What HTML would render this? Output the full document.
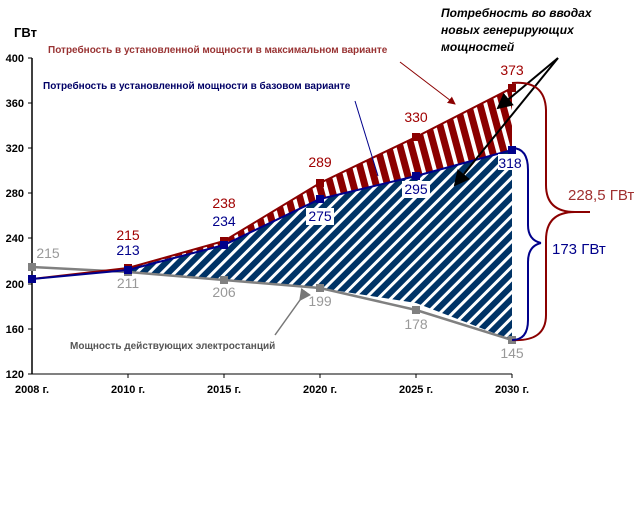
<!DOCTYPE html>
<html><head><meta charset="utf-8"><style>
body{margin:0;background:#fff;}
svg text{font-family:"Liberation Sans",sans-serif;}
</style></head><body>
<svg width="635" height="527" viewBox="0 0 635 527" xmlns="http://www.w3.org/2000/svg">
<defs>
<pattern id="pr" width="11" height="11" patternUnits="userSpaceOnUse" patternTransform="rotate(-15)">
<rect width="11" height="11" fill="#8b0000"/><rect width="4" height="11" fill="#fff"/></pattern>
<pattern id="pb" width="9" height="9" patternUnits="userSpaceOnUse" patternTransform="rotate(45)">
<rect width="9" height="9" fill="#003366"/><rect width="3" height="9" fill="#fff"/></pattern>
<marker id="ah" markerWidth="8" markerHeight="8" refX="7" refY="4" orient="auto"><path d="M0,0 L8,4 L0,8z" fill="#000"/></marker>
<marker id="ar" markerWidth="8" markerHeight="8" refX="7" refY="4" orient="auto"><path d="M0,0 L8,4 L0,8z" fill="#8b0000"/></marker>
<marker id="ag" markerWidth="8" markerHeight="8" refX="7" refY="4" orient="auto"><path d="M0,0 L8,4 L0,8z" fill="#777"/></marker>
</defs>
<polygon fill="url(#pr)" points="128,268 224,241 320,183 416,137 512,88 512,150 416,176 320,199 224,245 128,268"/>
<polygon fill="url(#pb)" points="128,268 224,245 320,199 416,176 512,150 512,340 416,303 320,288 224,280 128,273"/>
<line x1="32" y1="58" x2="32" y2="374" stroke="#000" stroke-width="1.5"/>
<line x1="32" y1="374" x2="512" y2="374" stroke="#000" stroke-width="1"/>
<g stroke="#000">
<line x1="28" y1="58" x2="32" y2="58"/><line x1="28" y1="103" x2="32" y2="103"/><line x1="28" y1="148" x2="32" y2="148"/><line x1="28" y1="193" x2="32" y2="193"/><line x1="28" y1="238" x2="32" y2="238"/><line x1="28" y1="284" x2="32" y2="284"/><line x1="28" y1="329" x2="32" y2="329"/><line x1="28" y1="374" x2="32" y2="374"/>
<line x1="128" y1="374" x2="128" y2="378"/><line x1="224" y1="374" x2="224" y2="378"/><line x1="320" y1="374" x2="320" y2="378"/><line x1="416" y1="374" x2="416" y2="378"/><line x1="512" y1="374" x2="512" y2="378"/>
</g>
<g font-size="11" font-weight="bold" text-anchor="end">
<text x="24" y="62">400</text><text x="24" y="107">360</text><text x="24" y="152">320</text><text x="24" y="197">280</text><text x="24" y="242">240</text><text x="24" y="288">200</text><text x="24" y="333">160</text><text x="24" y="378">120</text>
</g>
<g font-size="11" font-weight="bold" text-anchor="middle">
<text x="32" y="393">2008 г.</text><text x="128" y="393">2010 г.</text><text x="224" y="393">2015 г.</text><text x="320" y="393">2020 г.</text><text x="416" y="393">2025 г.</text><text x="512" y="393">2030 г.</text>
</g>
<text x="14" y="37" font-size="13" font-weight="bold">ГВт</text>
<polyline fill="none" stroke="#808080" stroke-width="2.5" points="32,267 128,272 224,280 320,288 416,310 512,340"/>
<polyline fill="none" stroke="#8b0000" stroke-width="2" points="32,279 128,268 224,241 320,183 416,137 512,88"/>
<polyline fill="none" stroke="#00008b" stroke-width="2" points="32,279 128,270 224,245 320,199 416,176 512,150"/>
<g fill="#808080"><rect x="28" y="263" width="8" height="8"/><rect x="124" y="268" width="8" height="8"/><rect x="220" y="276" width="8" height="8"/><rect x="316" y="284" width="8" height="8"/><rect x="412" y="306" width="8" height="8"/><rect x="508" y="336" width="8" height="8"/></g>
<g fill="#8b0000"><rect x="124" y="264" width="8" height="8"/><rect x="220" y="237" width="8" height="8"/><rect x="316" y="179" width="8" height="8"/><rect x="412" y="133" width="8" height="8"/><rect x="508" y="84" width="8" height="8"/></g>
<g fill="#00008b"><rect x="28" y="275" width="8" height="8"/><rect x="124" y="266" width="8" height="8"/><rect x="220" y="241" width="8" height="8"/><rect x="316" y="195" width="8" height="8"/><rect x="412" y="172" width="8" height="8"/><rect x="508" y="146" width="8" height="8"/></g>
<g font-size="14" text-anchor="middle">
<g fill="#999"><text x="48" y="258">215</text><text x="128" y="288">211</text><text x="224" y="297">206</text><text x="320" y="306">199</text><text x="416" y="329">178</text><text x="512" y="358">145</text></g>
<g fill="#a00000"><text x="128" y="240">215</text><text x="224" y="208">238</text><text x="320" y="167">289</text><text x="416" y="122">330</text><text x="512" y="75">373</text></g>
<g fill="#00008b"><rect x="306" y="208" width="28" height="17" fill="#fff"/><rect x="402" y="181" width="28" height="17" fill="#fff"/><rect x="498" y="154" width="26" height="16" fill="#fff"/>
<text x="128" y="255">213</text><text x="224" y="226">234</text><text x="320" y="221">275</text><text x="416" y="194">295</text><text x="510" y="168">318</text></g>
</g>
<text x="48" y="53" font-size="10" font-weight="bold" fill="#993333">Потребность в установленной мощности в максимальном варианте</text>
<text x="43" y="89" font-size="10" font-weight="bold" fill="#000066">Потребность в установленной мощности в базовом варианте</text>
<text x="70" y="349" font-size="10" font-weight="bold" fill="#555">Мощность действующих электростанций</text>
<g font-size="12" font-weight="bold" font-style="italic"><text x="441" y="17">Потребность во вводах</text><text x="441" y="34">новых генерирующих</text><text x="441" y="51">мощностей</text></g>
<line x1="400" y1="62" x2="455" y2="104" stroke="#8b0000" stroke-width="1" marker-end="url(#ar)"/>
<line x1="355" y1="101" x2="378" y2="176" stroke="#00008b" stroke-width="1"/>
<line x1="300" y1="300" x2="275" y2="335" stroke="#777" stroke-width="1.5" marker-start="url(#ag)"/>
<line x1="558" y1="58" x2="498" y2="108" stroke="#000" stroke-width="2" marker-end="url(#ah)"/>
<line x1="558" y1="58" x2="455" y2="185" stroke="#000" stroke-width="2" marker-end="url(#ah)"/>
<path d="M512,83 Q545,80 546,110 L546,185 Q546,212 575,212 L590,212 M575,212 Q546,212 546,240 L546,315 Q546,342 512,340" fill="none" stroke="#8b0000" stroke-width="2"/>
<path d="M512,148 Q528,148 528,170 L528,225 Q528,240 541,243 M541,243 Q528,246 528,262 L528,320 Q528,340 512,340" fill="none" stroke="#00008b" stroke-width="2"/>
<text x="568" y="200" font-size="15" fill="#a03030">228,5 ГВт</text>
<text x="552" y="254" font-size="15" fill="#00008b">173 ГВт</text>
</svg>
</body></html>
